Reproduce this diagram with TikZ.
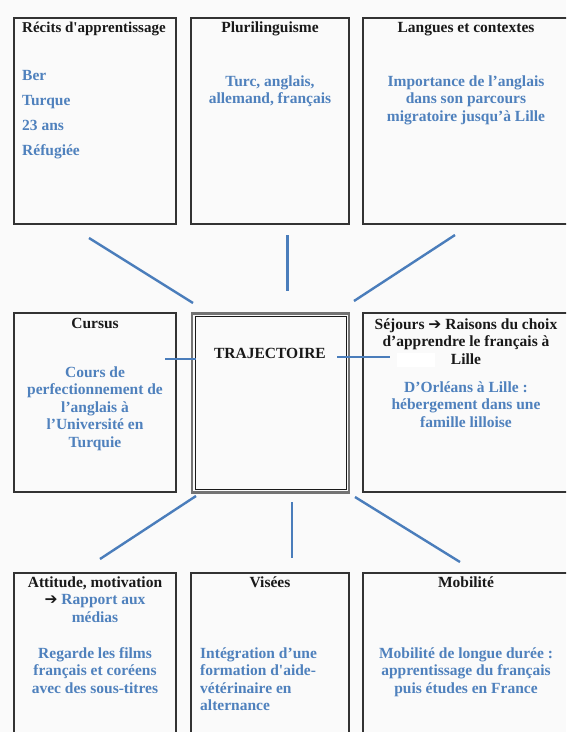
\documentclass[tikz,border=0pt]{standalone}
\usepackage{fontspec}
\setmainfont{Liberation Serif}
\newfontfamily\arrowfont{DejaVu Sans}
\definecolor{txtblue}{RGB}{79,129,189}
\definecolor{lineblue}{RGB}{74,125,187}
\definecolor{bgc}{RGB}{250,250,250}
\newcommand{\rarr}{{\arrowfont\bfseries ➔}}
\begin{document}
\begin{tikzpicture}[x=1pt,y=-1pt,
  box/.style={draw=black!80, line width=1.1pt, inner sep=0pt},
  head/.style={font=\fontsize{15.5}{17.5}\selectfont\bfseries, text=black!90, inner sep=0pt, anchor=base, align=center},
  body/.style={font=\fontsize{15.5}{17.5}\selectfont\bfseries, text=txtblue, inner sep=0pt, anchor=base, align=center},
  conn/.style={draw=lineblue, line width=2.4pt}]
\useasboundingbox (0,0) rectangle (566,732);
\fill[bgc] (0,0) rectangle (566,732);
\begin{scope}
\clip (0,0) rectangle (566,732);
% boxes
\node[box, minimum width=162pt, minimum height=206pt] (b1) at (95,121) {};
\node[box, minimum width=158pt, minimum height=206pt] (b2) at (270,121) {};
\node[box, minimum width=206pt, minimum height=206pt] (b3) at (466,121) {};
\node[box, minimum width=162pt, minimum height=179pt] (m1) at (95,402.5) {};
\node[draw=black!55, line width=2.6pt, inner sep=0pt, minimum width=157pt, minimum height=179pt] (c) at (270.5,403) {};
\node[draw=black!90, line width=0.7pt, inner sep=0pt, minimum width=151pt, minimum height=173pt] (ci) at (270.5,403) {};
\node[box, minimum width=206pt, minimum height=179pt] (m3) at (466,402.5) {};
\node[box, minimum width=162pt, minimum height=190pt] (d1) at (95,668) {};
\node[box, minimum width=158pt, minimum height=190pt] (d2) at (270,668) {};
\node[box, minimum width=206pt, minimum height=190pt] (d3) at (466,668) {};
\fill[white] (397,353) rectangle (435,367);
% texts (multi-line nodes: base = baseline of last line)
\node[head, anchor=base west, font=\fontsize{15}{17.5}\selectfont\bfseries] (t1h) at (22,32) {Récits d\textquotesingle apprentissage};
\node[body, anchor=base west, align=left, font=\fontsize{15.5}{24.7}\selectfont\bfseries] (t1b) at (22,155) {Ber\\Turque\\23 ans\\Réfugiée};
\node[head] (t2h) at (270,32) {Plurilinguisme};
\node[body] (t2b) at (270,103.5) {Turc, anglais,\\allemand, français};
\node[head] (t3h) at (466,32) {Langues et contextes};
\node[body] (t3b) at (466,121) {Importance de l’anglais\\dans son parcours\\migratoire jusqu’à Lille};
\node[head] (t4h) at (95,328) {Cursus};
\node[body] (t4b) at (95,447) {Cours de\\perfectionnement de\\l’anglais à\\l’Université en\\Turquie};
\node[head] (t5h) at (270,358) {TRAJECTOIRE};
\node[head] (t6h) at (466,364) {Séjours \rarr{} Raisons du choix\\d’apprendre le français à\\Lille};
\node[body] (t6b) at (466,427) {D’Orléans à Lille :\\hébergement dans une\\famille lilloise};
\node[head] (t7h) at (95,622) {Attitude, motivation\\\rarr{} \textcolor{txtblue}{Rapport aux}\\\textcolor{txtblue}{médias}};
\node[body] (t7b) at (95,693) {Regarde les films\\français et coréens\\avec des sous-titres};
\node[head] (t8h) at (270,587) {Visées};
\node[body, anchor=base west, align=left] (t8b) at (200,710.5) {Intégration d’une\\formation d\textquotesingle aide-\\vétérinaire en\\alternance};
\node[head] (t9h) at (466,587) {Mobilité};
\node[body] (t9b) at (466,693) {Mobilité de longue durée :\\apprentissage du français\\puis études en France};
% connectors
\coordinate (c1a) at (89,238); \coordinate (c1b) at (193,303);
\coordinate (c2a) at (287.5,235); \coordinate (c2b) at (287.5,291);
\coordinate (c3a) at (455,235); \coordinate (c3b) at (354,301);
\coordinate (c4a) at (165,359); \coordinate (c4b) at (196,359);
\coordinate (c5a) at (337,357); \coordinate (c5b) at (390,357);
\coordinate (c6a) at (196,496); \coordinate (c6b) at (100,559);
\coordinate (c7a) at (292,502); \coordinate (c7b) at (292,558);
\coordinate (c8a) at (355,497); \coordinate (c8b) at (460,562);
\draw[conn] (c1a) -- (c1b);
\draw[conn] (c2a) -- (c2b);
\draw[conn] (c3a) -- (c3b);
\draw[conn] (c4a) -- (c4b);
\draw[conn] (c5a) -- (c5b);
\draw[conn] (c6a) -- (c6b);
\draw[conn] (c7a) -- (c7b);
\draw[conn] (c8a) -- (c8b);
\end{scope}
\end{tikzpicture}
\end{document}
